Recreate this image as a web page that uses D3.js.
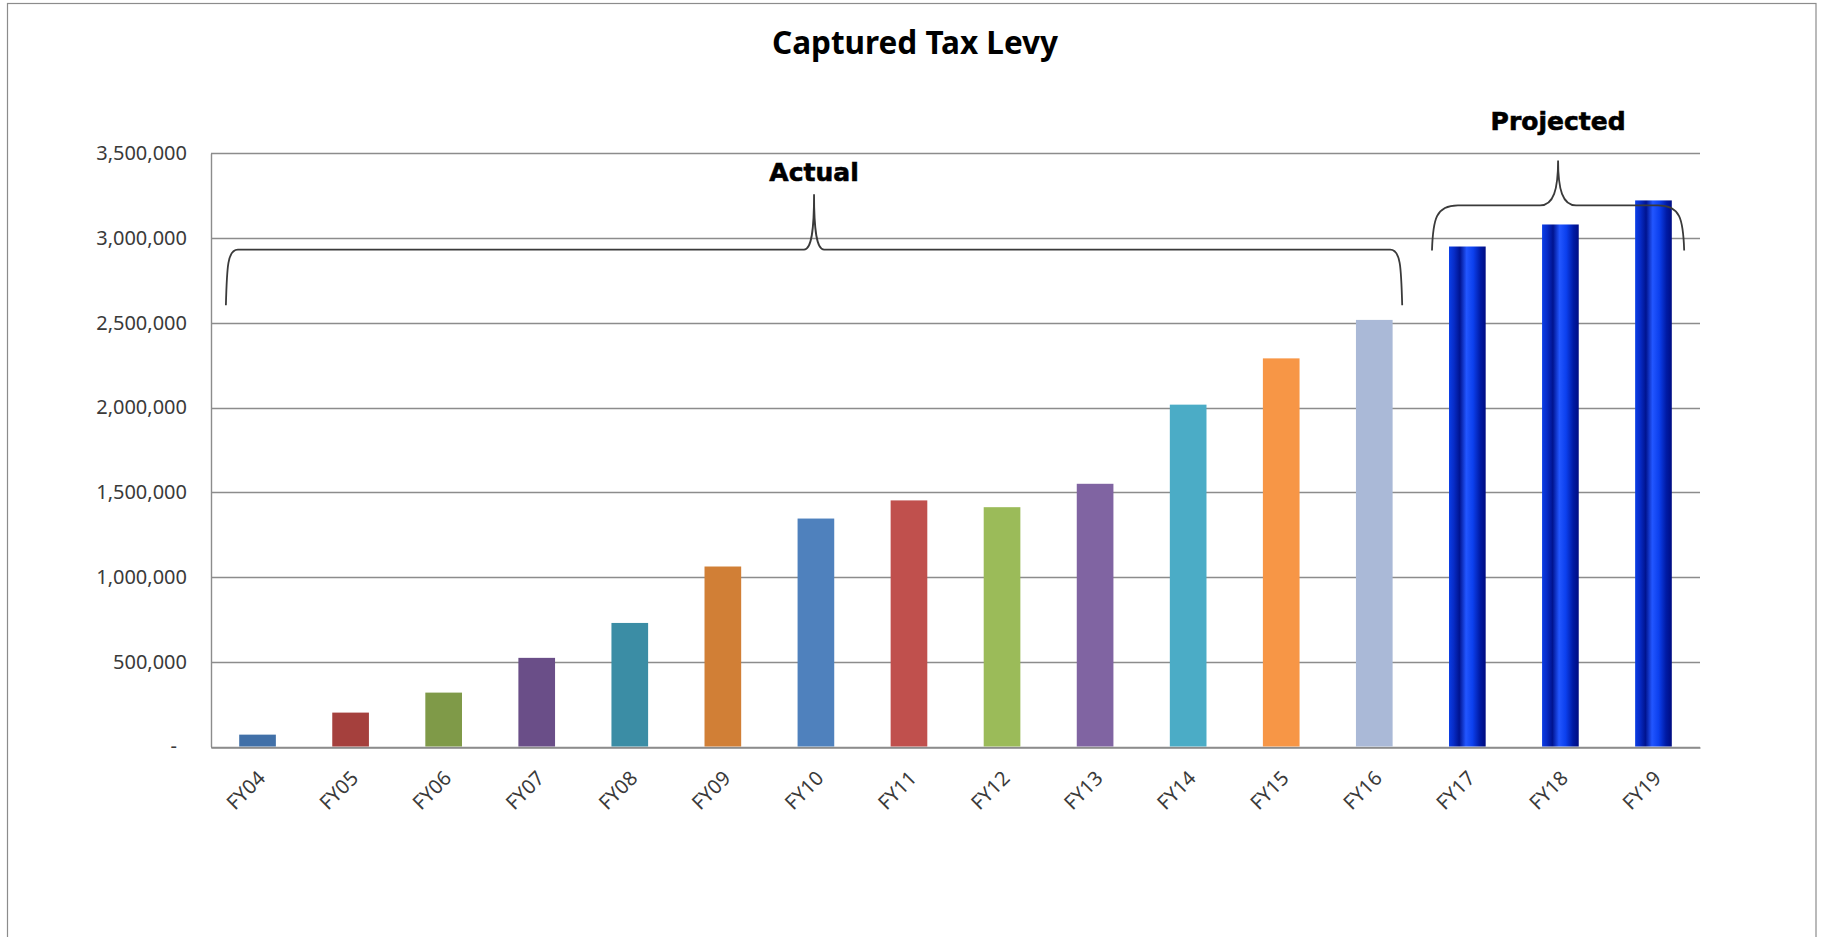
<!DOCTYPE html>
<html>
<head>
<meta charset="utf-8">
<script src="https://cdn.jsdelivr.net/npm/d3@7"></script>
<style>
  html, body { margin: 0; padding: 0; background: #ffffff; }
  svg { display: block; }
</style>
</head>
<body>
<svg id="chart" width="1822" height="937"></svg>
<script>
// ---------------- data ----------------
const chartTitle = "Captured Tax Levy";
const categories = ["FY04","FY05","FY06","FY07","FY08","FY09","FY10","FY11","FY12","FY13","FY14","FY15","FY16","FY17","FY18","FY19"];
const values = [70000, 200000, 318000, 523000, 729000, 1062000, 1345000, 1452000, 1412000, 1550000, 2017000, 2290000, 2517000, 2950000, 3080000, 3222000];
const projectedCategories = ["FY17","FY18","FY19"];
const actualColors = ["#4170A8","#A5403D","#7F9A48","#6A4E88","#3B8DA5","#D17F36","#4F81BD","#C0504D","#9BBB59","#8064A2","#4BACC6","#F79646","#AAB9D7"];
const yTicks = [0, 500000, 1000000, 1500000, 2000000, 2500000, 3000000, 3500000];
// bracket annotations: span in category-index units, heights in data units
const bracketLabels = ["Actual", "Projected"];
const bracketStart = [0.16, 13.12];
const bracketEnd = [12.8, 15.83];
const bracketEndValue = [2603000, 2927000];
const bracketLineValue = [2932000, 3193000];
const bracketTipValue = [3258000, 3458000];
const bracketTextValue = [3334000, 3639000];
const bracketCorner = [12, 26];
const bracketTipHalf = [10, 18];

// ---------------- layout ----------------
const plotLeft = 211, plotRight = 1700, plotTop = 153.3, plotBottom = 746.5;

const svg = d3.select("#chart");

// outer frame
svg.append("rect")
  .attr("x", 7.5).attr("y", 3.5)
  .attr("width", 1808.5).attr("height", 1000)
  .attr("fill", "#fff").attr("stroke", "#8c8c8c").attr("stroke-width", 1.2);

// gradient for projected bars
const defs = svg.append("defs");
const grad = defs.append("linearGradient")
  .attr("id", "projGrad")
  .attr("x1", 0).attr("y1", 0).attr("x2", 1).attr("y2", 0.02);
[[0, "#0b3fe8"], [0.14, "#072cc8"], [0.3, "#00138f"], [0.48, "#2256ff"], [0.66, "#0c40ee"], [0.86, "#001aa4"], [1, "#000d84"]]
  .forEach(([o, c]) => grad.append("stop").attr("offset", o).attr("stop-color", c));

const x = d3.scaleBand().domain(categories).range([plotLeft, plotRight]).paddingInner(0.606).paddingOuter(0.303);
const xi = d3.scaleLinear().domain([0, categories.length]).range([plotLeft, plotRight]);
const y = d3.scaleLinear().domain([0, 3500000]).range([plotBottom, plotTop]);

// gridlines
svg.append("g").selectAll("line").data(yTicks).join("line")
  .attr("x1", plotLeft).attr("x2", plotRight)
  .attr("y1", d => Math.round(y(d)) + 0.5).attr("y2", d => Math.round(y(d)) + 0.5)
  .attr("stroke", "#8c8c8c").attr("stroke-width", 1.4);

// y axis
const yAxis = d3.axisLeft(y).tickValues(yTicks).tickSize(0).tickPadding(24)
  .tickFormat(d => d === 0 ? "-" : d3.format(",")(d));
const gy = svg.append("g").attr("transform", `translate(${plotLeft},0)`).call(yAxis);
gy.select(".domain").attr("stroke", "#8c8c8c").attr("stroke-width", 1.4);
gy.selectAll("text")
  .attr("font-family", "'Noto Sans', sans-serif").attr("font-size", 20).attr("fill", "#3a3a3a")
  .attr("dx", d => d === 0 ? -10 : 0);

// bars
svg.append("g").selectAll("rect").data(categories).join("rect")
  .attr("x", d => x(d))
  .attr("width", x.bandwidth())
  .attr("y", (d, i) => y(values[i]))
  .attr("height", (d, i) => y(0) - y(values[i]))
  .attr("fill", (d, i) => projectedCategories.includes(d) ? "url(#projGrad)" : actualColors[i]);

// x axis
const xAxis = d3.axisBottom(x).tickSize(0).tickPadding(0);
const gx = svg.append("g").attr("transform", `translate(0,${Math.round(y(0)) + 0.5})`).call(xAxis);
gx.select(".domain").attr("stroke", "#8c8c8c").attr("stroke-width", 1.4);
gx.selectAll("text")
  .attr("font-family", "'Noto Sans', sans-serif").attr("font-size", 20).attr("fill", "#3a3a3a")
  .attr("text-anchor", "end")
  .attr("x", 4).attr("y", 27).attr("dy", "0.35em")
  .attr("transform", "rotate(-45, 4, 27)");

// title
svg.append("text")
  .attr("x", 915).attr("y", 54)
  .attr("text-anchor", "middle")
  .attr("font-family", "'Noto Sans', sans-serif").attr("font-weight", "bold").attr("font-size", 31.5)
  .attr("fill", "#000")
  .text(chartTitle);

// brackets
function bracePath(x0, x1, yEnd, yLine, yTip, r, r2) {
  const xm = (x0 + x1) / 2;
  const h = yEnd - yLine;
  const t = yLine - yTip;
  return `M${x0},${yEnd}` +
    `C${x0 + 1},${yLine + h * 0.3} ${x0 + r * 0.15},${yLine} ${x0 + r},${yLine}` +
    `L${xm - r2},${yLine}` +
    `C${xm - r2 * 0.25},${yLine} ${xm},${yLine - t * 0.35} ${xm},${yTip}` +
    `C${xm},${yLine - t * 0.35} ${xm + r2 * 0.25},${yLine} ${xm + r2},${yLine}` +
    `L${x1 - r},${yLine}` +
    `C${x1 - r * 0.15},${yLine} ${x1 - 1},${yLine + h * 0.3} ${x1},${yEnd}`;
}

bracketLabels.forEach((lab, i) => {
  const x0 = xi(bracketStart[i]), x1 = xi(bracketEnd[i]);
  svg.append("path")
    .attr("d", bracePath(x0, x1, y(bracketEndValue[i]), y(bracketLineValue[i]), y(bracketTipValue[i]), bracketCorner[i], bracketTipHalf[i]))
    .attr("fill", "none").attr("stroke", "#3a3a3a").attr("stroke-width", 1.8);
  svg.append("text")
    .attr("x", (x0 + x1) / 2).attr("y", y(bracketTextValue[i]))
    .attr("text-anchor", "middle")
    .attr("font-family", "'DejaVu Sans', sans-serif").attr("font-weight", "bold").attr("font-size", 25)
    .attr("stroke", "#000").attr("stroke-width", 0.6)
    .attr("fill", "#000")
    .text(lab);
});
</script>
</body>
</html>
